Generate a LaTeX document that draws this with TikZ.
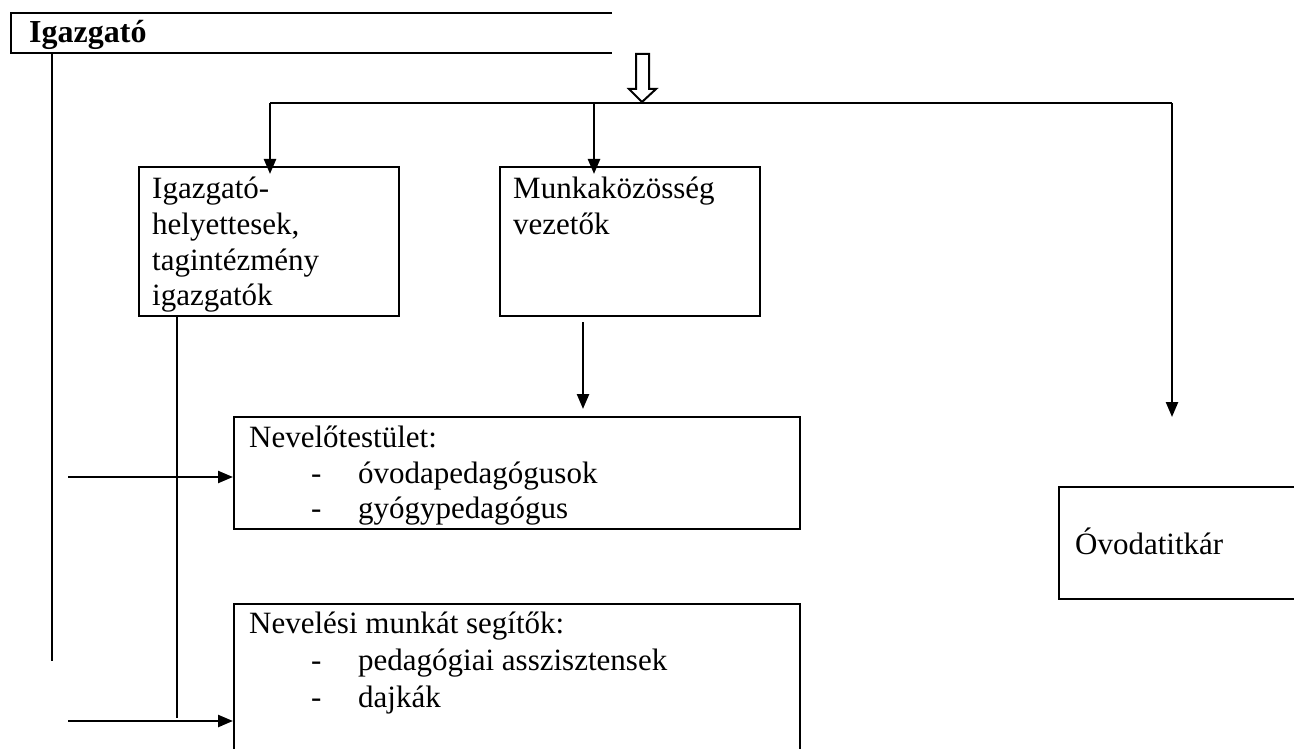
\documentclass[tikz,border=0pt]{standalone}
\usepackage{fontspec}
\setmainfont{Liberation Serif}
\usetikzlibrary{arrows.meta}
\begin{document}
\begin{tikzpicture}[x=1pt,y=-1pt,
  line width=2.4pt,
  box/.style={draw,line width=2.2pt,anchor=north west,inner sep=0pt,outer sep=0pt},
  txt/.style={anchor=base west,inner sep=0pt,font=\fontsize{31}{35.5}\selectfont},
  arr/.style={-{Triangle[length=15pt,width=12pt]}},
  every node/.style={inner sep=0pt}]
\useasboundingbox (0,0) rectangle (1294,749);
\clip (0,0) rectangle (1294,749);
\fill[white] (0,0) rectangle (1294,749);
% Igazgato (open box)
\draw[line width=2.2pt] (612,13) -- (11,13) -- (11,53) -- (612,53);
\node[txt,font=\fontsize{32}{36}\selectfont\bfseries] (ig) at (28,43) {Igazgató};
\coordinate (igbot) at (52,53);
\coordinate (igend) at (52,661);
\draw (igbot) -- (igend);
% hollow arrow
\draw[line width=2pt,fill=white] (636,54) -- (649,54) -- (649,89) -- (656,89) -- (642,102) -- (629,89) -- (636,89) -- cycle;
% boxes
\node[box,minimum width=260pt,minimum height=149pt] (b1) at (139,167) {};
\node[box,minimum width=260pt,minimum height=149pt] (b2) at (500,167) {};
\node[box,minimum width=566pt,minimum height=112pt] (b3) at (234,417) {};
\draw[line width=2.2pt] (1320,770) -- (234,770) -- (234,604) -- (800,604) -- (800,770);
\coordinate (b4) at (234,604);
\draw[line width=2.2pt] (1320,487) -- (1059,487) -- (1059,599) -- (1320,599);
\coordinate (b5) at (1059,487);
% texts
\node[txt] (t1a) at (151,199) {Igazgató-};
\node[txt] (t1b) at (151,234.5) {helyettesek,};
\node[txt] (t1c) at (151,270) {tagintézmény};
\node[txt] (t1d) at (151,305.5) {igazgatók};
\node[txt] (t2a) at (512,199) {Munkaközösség};
\node[txt] (t2b) at (512,234.5) {vezetők};
\node[txt] (t3a) at (248,447) {Nevelőtestület:};
\node[txt] (t3b) at (310,483) {-};
\node[txt] (t3c) at (357,483) {óvodapedagógusok};
\node[txt] (t3d) at (310,518) {-};
\node[txt] (t3e) at (357,518) {gyógypedagógus};
\node[txt] (t4a) at (248,633) {Nevelési munkát segítők:};
\node[txt] (t4b) at (310,670) {-};
\node[txt] (t4c) at (357,670) {pedagógiai asszisztensek};
\node[txt] (t4d) at (310,707) {-};
\node[txt] (t4e) at (357,707) {dajkák};
\node[txt] (t5) at (1074,554) {Óvodatitkár};
% connectors
\coordinate (hl) at (270,103);
\coordinate (hr) at (1172,103);
\draw (hl) -- (hr);
\draw[arr] (hl) -- (270,174);
\draw[arr] (594,103) -- (594,174);
\draw[arr] (hr) -- (1172,417);
\draw[arr] (583,322) -- (583,409);
\coordinate (v1) at (177,316);
\draw (v1) -- (177,718);
\coordinate (a1) at (68,477);
\coordinate (a2) at (68,721);
\draw[arr] (a1) -- (233,477);
\draw[arr] (a2) -- (233,721);
\end{tikzpicture}
\end{document}
